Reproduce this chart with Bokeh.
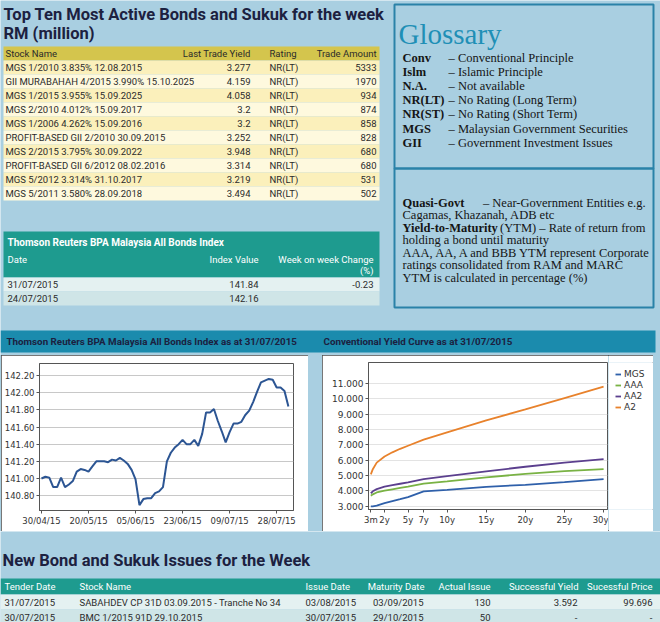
from bokeh.plotting import figure
from bokeh.models import Range1d, FixedTicker, NumeralTickFormatter, Legend, LegendItem, Spacer
from bokeh.layouts import column, row
from bokeh.core.properties import value
from bokeh.embed import file_html
from bokeh.resources import INLINE

# ------------------------------------------------------------------ data
bond_names = ["MGS 1/2010 3.835% 12.08.2015", "GII MURABAHAH 4/2015 3.990% 15.10.2025",
              "MGS 1/2015 3.955% 15.09.2025", "MGS 2/2010 4.012% 15.09.2017",
              "MGS 1/2006 4.262% 15.09.2016", "PROFIT-BASED GII 2/2010 30.09.2015",
              "MGS 2/2015 3.795% 30.09.2022", "PROFIT-BASED GII 6/2012 08.02.2016",
              "MGS 5/2012 3.314% 31.10.2017", "MGS 5/2011 3.580% 28.09.2018"]
bond_yields = [3.277, 4.159, 4.058, 3.2, 3.2, 3.252, 3.948, 3.314, 3.219, 3.494]
bond_ratings = ["NR(LT)", "NR(LT)", "NR(LT)", "NR(LT)", "NR(LT)",
                "NR(LT)", "NR(LT)", "NR(LT)", "NR(LT)", "NR(LT)"]
bond_amounts = [5333, 1970, 934, 874, 858, 828, 680, 680, 531, 502]

index_dates = ["31/07/2015", "24/07/2015"]
index_values = [141.84, 142.16]
index_change = ["-0.23", ""]

glossary_terms = ["Conv", "Islm", "N.A.", "NR(LT)", "NR(ST)", "MGS", "GII"]
glossary_defs = ["– Conventional Principle", "– Islamic Principle", "– Not available",
                 "– No Rating (Long Term)", "– No Rating (Short Term)",
                 "– Malaysian Government Securities", "– Government Investment Issues"]

bpa_index = [141.00, 141.02, 141.01, 140.90, 140.90, 141.01, 140.90, 140.93, 140.97, 141.08,
             141.11, 141.10, 141.08, 141.14, 141.20, 141.20, 141.20, 141.19, 141.22, 141.21,
             141.24, 141.21, 141.17, 141.10, 140.99, 140.69, 140.76, 140.77, 140.77, 140.83,
             140.85, 140.90, 141.20, 141.30, 141.36, 141.40, 141.45, 141.40, 141.40, 141.45,
             141.38, 141.52, 141.77, 141.77, 141.81, 141.67, 141.55, 141.42, 141.54, 141.64,
             141.64, 141.66, 141.74, 141.79, 141.89, 142.01, 142.12, 142.14, 142.16, 142.15,
             142.06, 142.06, 142.02, 141.84]
bpa_tick_pos = [0, 12, 24, 36, 48, 60]
bpa_tick_labels = ["30/04/15", "20/05/15", "05/06/15", "23/06/15", "09/07/15", "28/07/15"]
bpa_y_ticks = [140.8, 141.0, 141.2, 141.4, 141.6, 141.8, 142.0, 142.2]

tenor_years = [0.25, 0.5, 1, 2, 3, 4, 5, 7, 10, 15, 20, 25, 30]
tenor_ticks = [0.25, 2, 5, 7, 10, 15, 20, 25, 30]
tenor_labels = ["3m", "2y", "5y", "7y", "10y", "15y", "20y", "25y", "30y"]
yc_mgs = [3.00, 3.00, 3.04, 3.20, 3.33, 3.46, 3.60, 3.97, 4.07, 4.27, 4.40, 4.58, 4.77]
yc_aaa = [3.69, 3.78, 3.90, 4.02, 4.11, 4.20, 4.28, 4.48, 4.62, 4.88, 5.12, 5.30, 5.43]
yc_aa2 = [3.85, 3.98, 4.12, 4.28, 4.38, 4.47, 4.56, 4.77, 4.97, 5.28, 5.58, 5.85, 6.08]
yc_a2 = [5.08, 5.42, 5.85, 6.25, 6.52, 6.75, 6.95, 7.35, 7.82, 8.60, 9.32, 10.06, 10.80]
yc_names = ["MGS", "AAA", "AA2", "A2"]
yc_y_ticks = [3, 4, 5, 6, 7, 8, 9, 10, 11]

new_header = ["Tender Date", "Stock Name", "Issue Date", "Maturity Date",
              "Actual Issue", "Successful Yield", "Sucessful Price"]
new_tender = ["31/07/2015", "30/07/2015"]
new_names = ["SABAHDEV CP 31D 03.09.2015 - Tranche No 34", "BMC 1/2015 91D 29.10.2015"]
new_issue = ["03/08/2015", "30/07/2015"]
new_maturity = ["03/09/2015", "29/10/2015"]
new_actual = [130, 50]
new_yield = ["3.592", "-"]
new_price = ["99.696", "-"]

# ------------------------------------------------------------------ style
BG = "#a9cfe1"
NAVY = "#1c2140"
OLIVE = "#d4c54d"
ROW_A = "#fbf0bb"
ROW_B = "#fef9de"
TEAL = "#1e9b8f"
TROW_A = "#e4f1f1"
TROW_B = "#cfe5e7"
BAR = "#1b8bad"
BOX = "#2a82a8"
SANSN = "Roboto"
SERIF = "Liberation Serif"
SANS = "DejaVu Sans"
TXT = "#2b2b2b"
TS = "9.5px"


def canvas(w, h, x0, x1, y0, y1, bg=BG):
    p = figure(width=w, height=h, x_range=Range1d(x0, x1), y_range=Range1d(y1, y0),
               output_backend="svg", toolbar_location=None, title=None,
               x_axis_location=None, y_axis_location=None, min_border=0)
    p.grid.visible = False
    p.outline_line_color = None
    p.background_fill_color = bg
    p.border_fill_color = bg
    return p


def txt(p, xs, ys, texts, size, font=SANSN, color=TXT, align="left",
        style="normal", baseline="middle"):
    p.text(x=xs, y=ys, text=texts, text_font=value(font), text_font_size=size,
           text_color=color, text_align=align, text_font_style=style,
           text_baseline=baseline)


# ------------------------------------------------------------------ top block
top = canvas(660, 355, 0, 660, 0, 355)
txt(top, [3, 3], [14, 33], ["Top Ten Most Active Bonds and Sukuk for the week", "RM (million)"],
    "16.5px", color=NAVY, style="bold")

# top ten table
n = len(bond_names)
top.quad(left=3, right=379, top=46, bottom=60, fill_color=OLIVE, line_color=None)
row_tops = [60 + 14 * i for i in range(n)]
top.quad(left=[3] * n, right=[379] * n, top=row_tops, bottom=[t + 14 for t in row_tops],
         fill_color=[ROW_A if i % 2 == 0 else ROW_B for i in range(n)], line_color=None)
txt(top, [5, 269], [53, 53], ["Stock Name", "Rating"], TS)
txt(top, [250, 376], [53, 53], ["Last Trade Yield", "Trade Amount"], TS, align="right")
ymid = [t + 7 for t in row_tops]
txt(top, [5] * n, ymid, bond_names, TS)
txt(top, [250] * n, ymid, [f"{v:g}" for v in bond_yields], TS, align="right")
txt(top, [269] * n, ymid, bond_ratings, TS)
txt(top, [376] * n, ymid, [str(v) for v in bond_amounts], TS, align="right")

# index table
top.quad(left=3, right=379, top=231, bottom=277, fill_color=TEAL, line_color=None)
top.quad(left=[3, 3], right=[379, 379], top=[277, 291], bottom=[291, 305],
         fill_color=[TROW_A, TROW_B], line_color=None)
txt(top, [7], [242], ["Thomson Reuters BPA Malaysia All Bonds Index"], "10px",
    color="white", style="bold")
txt(top, [7], [259], ["Date"], TS, color="white")
txt(top, [258, 373, 373], [259, 259, 270], ["Index Value", "Week on week Change", "(%)"],
    TS, color="white", align="right")
txt(top, [7, 7], [284, 298], index_dates, TS)
txt(top, [258, 258], [284, 298], [f"{v:.2f}" for v in index_values], TS, align="right")
txt(top, [373, 373], [284, 298], index_change, TS, align="right")

# glossary
top.quad(left=[394, 394], right=[653, 653], top=[4, 168], bottom=[168, 307],
         fill_color=None, line_color=BOX, line_width=2)
txt(top, [398], [33], ["Glossary"], "29px", font=SERIF, color="#1f8fb6", baseline="alphabetic")
gy = [57, 71, 85, 99, 113, 128, 142]
GS = "12.5px"
txt(top, [402] * 7, gy, glossary_terms, GS, font=SERIF, color="#151515", style="bold")
txt(top, [448] * 7, gy, glossary_defs, GS, font=SERIF, color="#151515")
txt(top, [402, 402], [202, 227], ["Quasi-Govt", "Yield-to-Maturity"], GS, font=SERIF,
    color="#151515", style="bold")
txt(top, [645, 645], [202, 227], ["– Near-Government Entities e.g.", "(YTM) – Rate of return from"],
    GS, font=SERIF, color="#151515", align="right")
txt(top, [402] * 5, [214, 239, 252, 264, 277],
    ["Cagamas, Khazanah, ADB etc", "holding a bond until maturity",
     "AAA, AA, A and BBB YTM represent Corporate", "ratings consolidated from RAM and MARC",
     "YTM is calculated in percentage (%)"], GS, font=SERIF, color="#151515")

# chart header bar
top.quad(left=0, right=655, top=330, bottom=352, fill_color=BAR, line_color=None)
txt(top, [6, 323], [341, 341], ["Thomson Reuters BPA Malaysia All Bonds Index as at 31/07/2015",
                                "Conventional Yield Curve as at  31/07/2015"],
    "9.8px", color=NAVY, style="bold")

PANEL_STYLE = {"outline": "1px solid #4a4a4a", "outline-offset": "-1px"}


def style_chart(p, size):
    p.background_fill_color = "white"
    p.border_fill_color = "white"
    p.outline_line_color = "#555555"
    p.xgrid.visible = False
    p.axis.axis_line_color = "#555555"
    p.axis.major_tick_line_color = "#555555"
    p.axis.minor_tick_line_color = None
    p.axis.major_tick_in = 0
    p.axis.major_tick_out = 3
    p.axis.major_label_standoff = 2
    p.axis.major_label_text_font = SANS
    p.axis.major_label_text_font_size = size
    p.axis.major_label_text_color = "#333333"


# chart 1: BPA index
c1 = figure(width=307, height=176, x_range=Range1d(-0.5, 64.3), y_range=Range1d(140.627, 142.34),
            output_backend="svg", toolbar_location=None, title=None,
            min_border_left=38, min_border_right=15, min_border_top=8, min_border_bottom=21)
c1.line(x=list(range(len(bpa_index))), y=bpa_index, line_color="#2c5593", line_width=2)
style_chart(c1, "8.5px")
c1.styles = PANEL_STYLE
c1.ygrid.grid_line_color = "#c8c8c8"
c1.xaxis.ticker = FixedTicker(ticks=bpa_tick_pos)
c1.xaxis.major_label_overrides = {k: v for k, v in zip(bpa_tick_pos, bpa_tick_labels)}
c1.yaxis.ticker = FixedTicker(ticks=bpa_y_ticks)
c1.yaxis.formatter = NumeralTickFormatter(format="0.00")

# chart 2: yield curve
c2 = figure(width=286, height=176, x_range=Range1d(-0.05, 30.5), y_range=Range1d(2.79, 12.38),
            output_backend="svg", toolbar_location=None, title=None,
            min_border_left=46, min_border_right=1, min_border_top=7, min_border_bottom=22)
colors = ["#2f60aa", "#79b244", "#5b3f8e", "#e8822c"]
for ys, col in zip([yc_mgs, yc_aaa, yc_aa2, yc_a2], colors):
    c2.line(x=tenor_years, y=ys, line_color=col, line_width=1.8)
style_chart(c2, "9px")
c2.xaxis.major_label_text_font_size = "8.5px"
c2.ygrid.grid_line_color = "#e3e3e3"
c2.xaxis.ticker = FixedTicker(ticks=tenor_ticks)
c2.xaxis.major_label_overrides = {k: v for k, v in zip(tenor_ticks, tenor_labels)}
c2.yaxis.ticker = FixedTicker(ticks=yc_y_ticks)
c2.yaxis.formatter = NumeralTickFormatter(format="0.000")

# legend strip beside the yield curve frame (legend keys only; series lines are in c2)
leg = canvas(45, 176, 0, 1, 0, 1, bg="white")
leg_rends = [leg.line(x=[5, 6], y=[5, 5], line_color=col, line_width=1.8) for col in colors]
legend = Legend(items=[LegendItem(label=nm, renderers=[r]) for nm, r in zip(yc_names, leg_rends)],
                location="top_left", margin=7, padding=0, spacing=1, glyph_width=6,
                glyph_height=10, label_height=10, label_standoff=3,
                label_text_font=SANS, label_text_font_size="9px", label_text_color="#333333",
                background_fill_alpha=0, border_line_color=None)
leg.add_layout(legend)

yc_panel = row(c2, leg, styles=PANEL_STYLE)
middle = row(Spacer(width=1, height=176), c1, Spacer(width=14, height=176), yc_panel,
             Spacer(width=7, height=176), styles={"background-color": BG})

# ------------------------------------------------------------------ bottom block
bot = canvas(660, 91, 0, 660, 531, 622)
txt(bot, [2], [560], ["New Bond and Sukuk Issues for the Week"], "16.5px", color=NAVY, style="bold")
bot.quad(left=0, right=660, top=578, bottom=594, fill_color=TEAL, line_color=None)
bot.quad(left=[0, 0], right=[660, 660], top=[594, 609], bottom=[609, 624],
         fill_color=[TROW_A, TROW_B], line_color=None)
txt(bot, [4, 79, 305], [586] * 3, new_header[:3], TS, color="white")
txt(bot, [424, 490, 578, 652], [586] * 4, new_header[3:], TS, color="white", align="right")
ry = [601.5, 616.5]
txt(bot, [4, 4], ry, new_tender, TS)
txt(bot, [79, 79], ry, new_names, TS)
txt(bot, [305, 305], ry, new_issue, TS)
txt(bot, [423, 423], ry, new_maturity, TS, align="right")
txt(bot, [490, 490], ry, [str(v) for v in new_actual], TS, align="right")
txt(bot, [577, 577], ry, new_yield, TS, align="right")
txt(bot, [652, 652], ry, new_price, TS, align="right")

layout = column(top, middle, bot)
open("out.html", "w").write(file_html(layout, INLINE))
